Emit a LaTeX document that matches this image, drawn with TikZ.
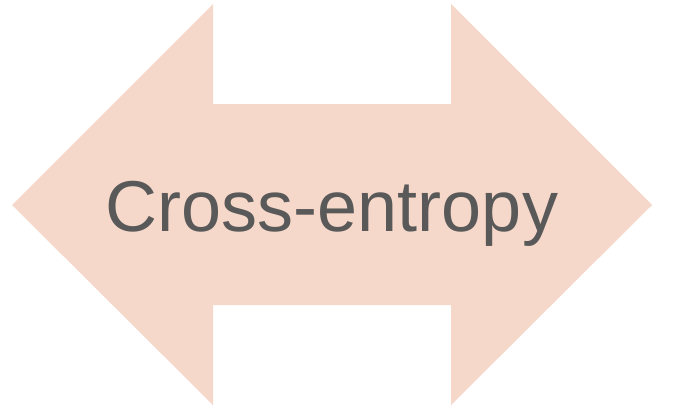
\documentclass[tikz,border=0pt]{standalone}
\usepackage{fontspec}
\setmainfont{Liberation Sans}
\usepackage{xcolor}
\usepackage{tikz}
\definecolor{peach}{RGB}{245,216,201}
\definecolor{darkgray}{RGB}{89,89,89}

\begin{document}
\begin{tikzpicture}[x=1pt,y=-1pt,
  arrowbody/.style={fill=peach,draw=none},
  lbl/.style={text=darkgray,font=\fontsize{72}{80}\selectfont,inner sep=0pt,anchor=base}]
\useasboundingbox (0,0) rectangle (674,410);
\fill[arrowbody] (12,205) -- (213,4) -- (213,104) -- (451,104) -- (451,4) -- (652,205)
  -- (451,405) -- (451,305) -- (213,305) -- (213,405) -- cycle;
\node[lbl] (label) at (332,231) {Cross-entropy};
\end{tikzpicture}
\end{document}
